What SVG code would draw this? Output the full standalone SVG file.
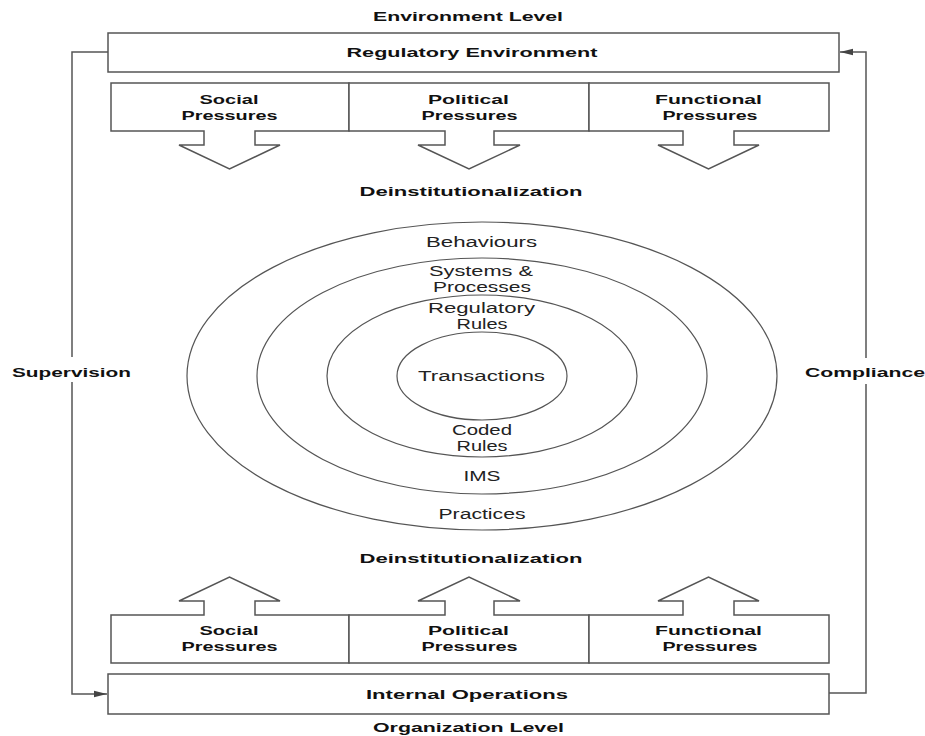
<svg xmlns="http://www.w3.org/2000/svg" width="925" height="736" viewBox="0 0 925 736">
<style>
.bg{fill:#fff}
.box{fill:#fff;stroke:#555;stroke-width:1.5}
.ring{fill:none;stroke:#555;stroke-width:1.2}
.conn{fill:none;stroke:#555;stroke-width:1.5}
.b{font-family:"Liberation Sans",Arial,sans-serif;font-weight:bold;font-size:13px;fill:#111;text-anchor:middle}
.r{font-family:"Liberation Sans",Arial,sans-serif;font-size:14px;fill:#222;text-anchor:middle}
</style>
<defs>
<marker id="ah" markerWidth="14" markerHeight="8" refX="13" refY="4" orient="auto" markerUnits="userSpaceOnUse">
<path d="M0,0.8 L13,4 L0,7.2 Z" fill="#444"/>
</marker>
</defs>
<rect class="bg" x="0" y="0" width="925" height="736"/>

<text class="b" x="468" y="21" textLength="190" lengthAdjust="spacingAndGlyphs">Environment Level</text>

<g id="regulatory-environment">
<rect class="box" x="108" y="33" width="731" height="39"/>
<text class="b" x="472" y="57" textLength="251" lengthAdjust="spacingAndGlyphs">Regulatory Environment</text>
</g>

<g id="top-social">
<path class="box" d="M111,83 H349 V131 H255 V145 H280 L229.5,169 L179,145 H204 V131 H111 Z"/>
<text class="b" x="229" y="104" textLength="59" lengthAdjust="spacingAndGlyphs">Social</text>
<text class="b" x="229.5" y="120" textLength="96" lengthAdjust="spacingAndGlyphs">Pressures</text>
</g>
<g id="top-political">
<path class="box" d="M349,83 H589 V131 H494 V145 H520 L469,169 L418,145 H445 V131 H349 Z"/>
<text class="b" x="468.5" y="104" textLength="81" lengthAdjust="spacingAndGlyphs">Political</text>
<text class="b" x="469.5" y="120" textLength="96" lengthAdjust="spacingAndGlyphs">Pressures</text>
</g>
<g id="top-functional">
<path class="box" d="M589,83 H829 V131 H734 V145 H759 L708.5,169 L658,145 H683 V131 H589 Z"/>
<text class="b" x="708.5" y="104" textLength="107" lengthAdjust="spacingAndGlyphs">Functional</text>
<text class="b" x="710" y="120" textLength="95" lengthAdjust="spacingAndGlyphs">Pressures</text>
</g>

<text class="b" x="471" y="196" textLength="223" lengthAdjust="spacingAndGlyphs">Deinstitutionalization</text>

<g id="behaviours-practices">
<ellipse class="ring" cx="482" cy="376" rx="295" ry="154"/>
<text class="r" x="481.5" y="247" textLength="111" lengthAdjust="spacingAndGlyphs">Behaviours</text>
<text class="r" x="482" y="519" textLength="87" lengthAdjust="spacingAndGlyphs">Practices</text>
</g>
<g id="systems-ims">
<ellipse class="ring" cx="482" cy="376" rx="225" ry="118"/>
<text class="r" x="481" y="276" textLength="104" lengthAdjust="spacingAndGlyphs">Systems &amp;</text>
<text class="r" x="482" y="292" textLength="98" lengthAdjust="spacingAndGlyphs">Processes</text>
<text class="r" x="482" y="481" textLength="37" lengthAdjust="spacingAndGlyphs">IMS</text>
</g>
<g id="rules">
<ellipse class="ring" cx="482" cy="376" rx="155" ry="81"/>
<text class="r" x="481.5" y="313" textLength="107" lengthAdjust="spacingAndGlyphs">Regulatory</text>
<text class="r" x="482" y="329" textLength="51" lengthAdjust="spacingAndGlyphs">Rules</text>
<text class="r" x="482" y="435" textLength="60" lengthAdjust="spacingAndGlyphs">Coded</text>
<text class="r" x="482" y="451" textLength="51" lengthAdjust="spacingAndGlyphs">Rules</text>
</g>
<g id="transactions">
<ellipse class="ring" cx="482" cy="376" rx="85" ry="44"/>
<text class="r" x="481.5" y="381" textLength="127" lengthAdjust="spacingAndGlyphs">Transactions</text>
</g>

<text class="b" x="471" y="563" textLength="223" lengthAdjust="spacingAndGlyphs">Deinstitutionalization</text>

<g id="bottom-social">
<path class="box" d="M111,663 H349 V615 H255 V601 H280 L229.5,577 L179,601 H204 V615 H111 Z"/>
<text class="b" x="229" y="635" textLength="59" lengthAdjust="spacingAndGlyphs">Social</text>
<text class="b" x="229.5" y="651" textLength="96" lengthAdjust="spacingAndGlyphs">Pressures</text>
</g>
<g id="bottom-political">
<path class="box" d="M349,663 H589 V615 H494 V601 H520 L469,577 L418,601 H445 V615 H349 Z"/>
<text class="b" x="468.5" y="635" textLength="81" lengthAdjust="spacingAndGlyphs">Political</text>
<text class="b" x="469.5" y="651" textLength="96" lengthAdjust="spacingAndGlyphs">Pressures</text>
</g>
<g id="bottom-functional">
<path class="box" d="M589,663 H829 V615 H734 V601 H759 L708.5,577 L658,601 H683 V615 H589 Z"/>
<text class="b" x="708.5" y="635" textLength="107" lengthAdjust="spacingAndGlyphs">Functional</text>
<text class="b" x="710" y="651" textLength="95" lengthAdjust="spacingAndGlyphs">Pressures</text>
</g>

<g id="internal-operations">
<rect class="box" x="108" y="674" width="721" height="40"/>
<text class="b" x="467" y="699" textLength="202" lengthAdjust="spacingAndGlyphs">Internal Operations</text>
</g>
<text class="b" x="468.5" y="732" textLength="191" lengthAdjust="spacingAndGlyphs">Organization Level</text>

<g id="connectors">
<path class="conn" d="M108,52 H72 V357 M72,382 V694 H107" marker-end="url(#ah)"/>
<text class="b" x="71.5" y="377" textLength="119" lengthAdjust="spacingAndGlyphs">Supervision</text>
<path class="conn" d="M829,693 H866 V384 M866,358 V52 H840" marker-end="url(#ah)"/>
<text class="b" x="865" y="377" textLength="120" lengthAdjust="spacingAndGlyphs">Compliance</text>
</g>
</svg>
